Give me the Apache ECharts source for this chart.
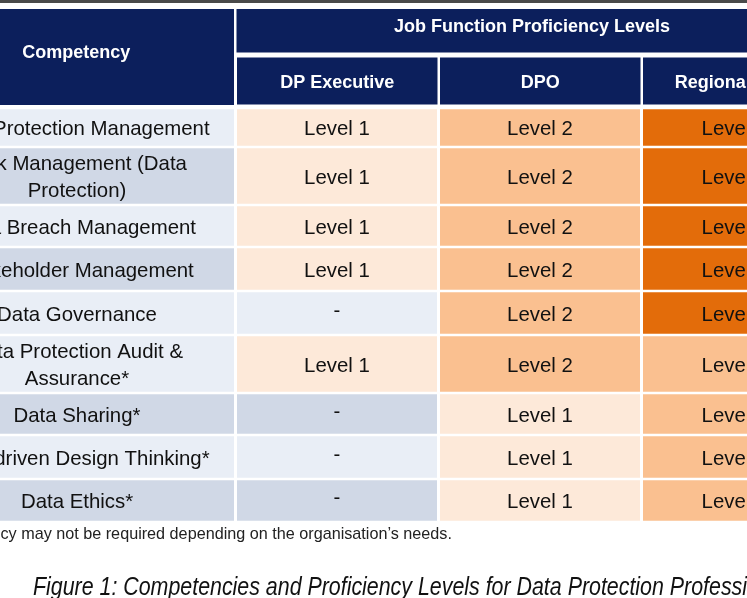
<!DOCTYPE html>
<html>
<head>
<meta charset="utf-8">
<title>Competencies and Proficiency Levels</title>
<script src="https://cdn.jsdelivr.net/npm/echarts@6/dist/echarts.min.js"></script>
<style>
  html, body { margin: 0; padding: 0; background: #fff; }
  #main { width: 747px; height: 598px; }
</style>
</head>
<body>
<div id="main"></div>
<script>
var competencies = [
    'Data Protection Management',
    'Risk Management (Data\nProtection)',
    'Data Breach Management',
    'Stakeholder Management',
    'Data Governance',
    'Data Protection Audit &\nAssurance*',
    'Data Sharing*',
    'User-driven Design Thinking*',
    'Data Ethics*'
];
var roles = ['DP Executive', 'DPO', 'Regional DPO'];
// 0 = not required ('-')
var dpExecutive = [1, 1, 1, 1, 0, 1, 0, 0, 0];
var dpo = [2, 2, 2, 2, 2, 2, 1, 1, 1];
var regionalDpo = [3, 3, 3, 3, 3, 2, 2, 2, 2];
var levels = [dpExecutive, dpo, regionalDpo];

var groupTitle = 'Job Function Proficiency Levels';
var firstHeader = 'Competency';
var footnote = '*This competency may not be required depending on the organisation\u2019s needs.';
var caption = 'Figure 1: Competencies and Proficiency Levels for Data Protection Professionals';

// table layout, in table pixels (the picture is cropped on the left)
var colW = [317, 203, 203, 186];
var rowH = [39, 58, 42, 44, 44, 58, 42, 44, 43];
var rowShade = [0, 1, 0, 1, 0, 0, 1, 0, 1];
var offsetX = 81.5;
var bodyTop = 108;

var navy = '#0c1f5c';
var shadeColors = ['#e9eef6', '#d0d8e6'];
var levelColors = { 1: '#fde9d9', 2: '#fac090', 3: '#e36c0a' };
var bodyFont = '20.4px "Liberation Sans", Arial, sans-serif';
var headFont = 'bold 18px "Liberation Sans", Arial, sans-serif';

var colEdges = [0];
colW.forEach(function (w, i) { colEdges.push(colEdges[i] + w); });
var rowEdges = [bodyTop];
rowH.forEach(function (h, i) { rowEdges.push(rowEdges[i] + h); });

var bodyData = [];
competencies.forEach(function (c, r) {
    for (var k = 0; k < 4; k++) bodyData.push([k, r]);
});
var headerTexts = [firstHeader, groupTitle].concat(roles);
var headerData = headerTexts.map(function (t, i) { return [i, 0]; });

function cellBox(api, x0, x1, y0, y1) {
    var p0 = api.coord([x0, y0]);
    var p1 = api.coord([x1, y1]);
    return { x: p0[0], y: p0[1], width: p1[0] - p0[0], height: p1[1] - p0[1] };
}

function renderBody(params, api) {
    var c = api.value(0), r = api.value(1);
    var box = cellBox(api, colEdges[c] + 1.5, colEdges[c + 1] - 1.5, rowEdges[r] + 1.25, rowEdges[r + 1] - 1.25);
    var fill, text, dy = 2;
    if (c === 0) {
        fill = shadeColors[rowShade[r]];
        text = competencies[r];
    } else {
        var lv = levels[c - 1][r];
        fill = lv ? levelColors[lv] : shadeColors[rowShade[r]];
        text = lv ? 'Level ' + lv : '-';
        if (!lv) dy = -2;
    }
    return {
        type: 'group',
        children: [
            { type: 'rect', shape: box, style: { fill: fill } },
            {
                type: 'text',
                x: box.x + box.width / 2,
                y: box.y + box.height / 2 + dy,
                style: {
                    text: text, font: bodyFont, fill: '#111',
                    align: 'center', verticalAlign: 'middle', lineHeight: 27
                }
            }
        ]
    };
}

function renderHeader(params, api) {
    var i = api.value(0);
    var box, ty;
    if (i === 0) {
        box = cellBox(api, colEdges[0], colEdges[1] - 1.5, 9, 105);
        ty = 53;
    } else if (i === 1) {
        box = cellBox(api, colEdges[1] + 1, colEdges[4], 9, 52.5);
        ty = 27;
    } else {
        box = cellBox(api, colEdges[i - 1] + 1.5, colEdges[i] - 1, 57.5, 104.5);
        ty = 83;
    }
    return {
        type: 'group',
        children: [
            { type: 'rect', shape: box, style: { fill: navy } },
            {
                type: 'text',
                x: box.x + box.width / 2,
                y: api.coord([0, ty])[1],
                style: { text: headerTexts[i], font: headFont, fill: '#fff', align: 'center', verticalAlign: 'middle' }
            }
        ]
    };
}

var myChart = echarts.init(document.getElementById('main'));
var option = {
    backgroundColor: '#fff',
    animation: false,
    grid: { left: 0, right: 0, top: 0, bottom: 0 },
    xAxis: { type: 'value', min: offsetX, max: offsetX + 747, show: false },
    yAxis: { type: 'value', min: 0, max: 598, inverse: true, show: false },
    graphic: [
        { type: 'rect', shape: { x: 0, y: 0, width: 747, height: 3 }, style: { fill: '#4a4a4a' } },
        {
            type: 'text', x: -112, y: 535,
            style: { text: footnote, font: '16.2px "Liberation Sans", Arial, sans-serif', fill: '#222', verticalAlign: 'middle' }
        },
        {
            // the caption font is a narrow italic; squeeze a normal italic to match
            type: 'text', x: 33, y: 588, scaleX: 0.855,
            style: { text: caption, font: 'italic 25px "Liberation Sans", Arial, sans-serif', fill: '#111', verticalAlign: 'middle' }
        }
    ],
    series: [
        { type: 'custom', coordinateSystem: 'cartesian2d', renderItem: renderHeader, data: headerData, silent: true },
        { type: 'custom', coordinateSystem: 'cartesian2d', renderItem: renderBody, data: bodyData, silent: true }
    ]
};
myChart.setOption(option);
</script>
</body>
</html>
